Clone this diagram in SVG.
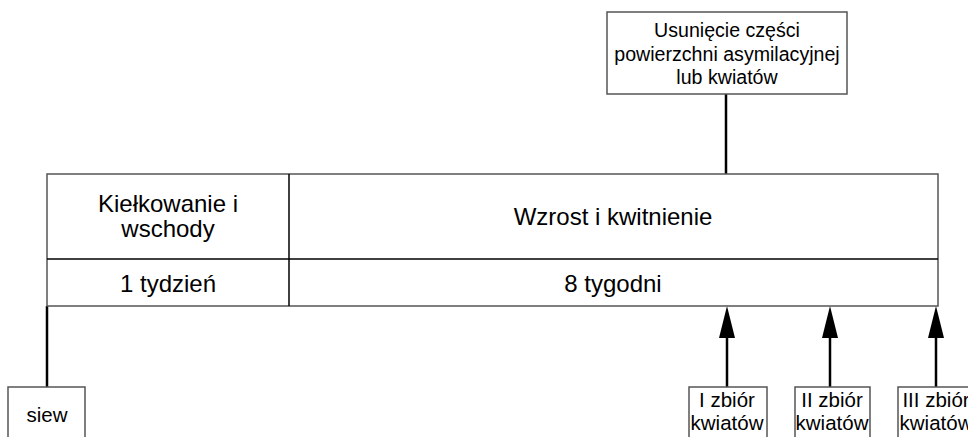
<svg xmlns="http://www.w3.org/2000/svg" width="968" height="437" viewBox="0 0 968 437">
  <style>
    text { font-family: "Liberation Sans", Arial, sans-serif; fill: #000; text-anchor: middle; }
    .box { fill: #fff; stroke: #555; stroke-width: 1.5; }
    .div { stroke: #000; stroke-width: 1.5; fill: none; }
    .conn { stroke: #000; stroke-width: 2.5; fill: none; }
    .head { fill: #000; }
    .note { font-size: 19.6px; }
    .cell { font-size: 24px; }
    .event { font-size: 20.5px; }
  </style>
  <rect width="968" height="437" fill="#fff"/>

  <!-- connectors: note stem, sowing stem, three harvest arrows -->
  <g id="connectors">
    <line class="conn" x1="726" y1="94" x2="726" y2="174"/>
    <line class="conn" x1="47" y1="306" x2="47" y2="387"/>
    <path class="conn" d="M727,387 V336"/>
    <path class="head" d="M719,338 L727,306 L735,338 Z"/>
    <path class="conn" d="M830,387 V336"/>
    <path class="head" d="M822,338 L830,306 L838,338 Z"/>
    <path class="conn" d="M936,387 V336"/>
    <path class="head" d="M928,338 L936,306 L944,338 Z"/>
  </g>

  <!-- top note -->
  <g id="usuniecie">
    <rect class="box" x="607" y="12" width="240" height="82"/>
    <text class="note" x="727" y="37">Usunięcie części</text>
    <text class="note" x="727" y="61">powierzchni asymilacyjnej</text>
    <text class="note" x="727" y="84">lub kwiatów</text>
  </g>

  <!-- phase table -->
  <g id="table">
    <rect class="box" x="47" y="174" width="891" height="132"/>
    <line class="div" x1="47" y1="259" x2="938" y2="259"/>
    <line class="div" x1="289" y1="174" x2="289" y2="306"/>
  </g>
  <g id="kielkowanie">
    <text class="cell" x="168" y="212">Kiełkowanie i</text>
    <text class="cell" x="168" y="237">wschody</text>
  </g>
  <g id="wzrost">
    <text class="cell" x="613" y="225">Wzrost i kwitnienie</text>
  </g>
  <g id="tydzien">
    <text class="cell" x="168" y="292">1 tydzień</text>
  </g>
  <g id="tygodni">
    <text class="cell" x="613" y="292">8 tygodni</text>
  </g>

  <!-- events -->
  <g id="siew">
    <rect class="box" x="8" y="387" width="77" height="60"/>
    <text class="event" x="47" y="422">siew</text>
  </g>
  <g id="zbior1">
    <rect class="box" x="689" y="387" width="78" height="60"/>
    <text class="event" x="727" y="407">I zbiór</text>
    <text class="event" x="727" y="430">kwiatów</text>
  </g>
  <g id="zbior2">
    <rect class="box" x="795" y="387" width="75" height="60"/>
    <text class="event" x="832" y="407">II zbiór</text>
    <text class="event" x="832" y="430">kwiatów</text>
  </g>
  <g id="zbior3">
    <rect class="box" x="898" y="387" width="80" height="60"/>
    <text class="event" x="936" y="407">III zbiór</text>
    <text class="event" x="936" y="430">kwiatów</text>
  </g>
</svg>
